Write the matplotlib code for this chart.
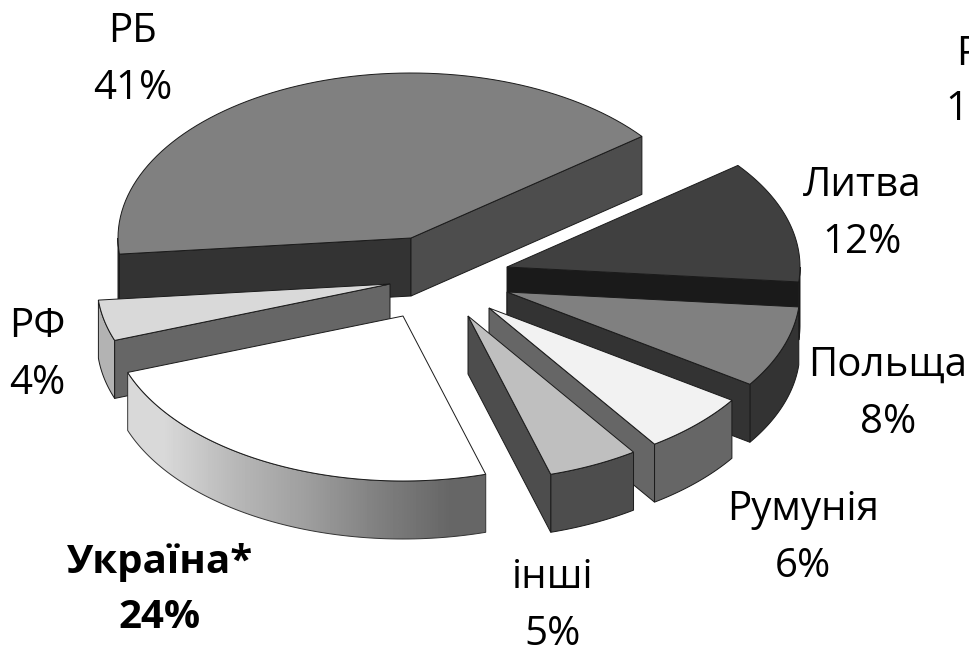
#exploded 3D pie, drawn by hand on an axes in pixel units
import numpy as np
import matplotlib
matplotlib.use("Agg")
import matplotlib.pyplot as plt
from matplotlib.patches import Polygon

#1. Data (clockwise from the Литва slice)
names = ["Литва", "Польща", "Румунія", "інші", "Україна*", "РФ", "РБ"]
values = [12, 8, 6, 5, 24, 4, 41]

#2. Look of each slice
top_colors = ["#404040", "#808080", "#f2f2f2", "#bfbfbf", "#ffffff", "#d9d9d9", "#808080"]
#wall at the slice's first edge, wall at its last edge, outer rim (None = hidden)
first_wall = [None, None, None, None, None, "#666666", "#333333"]
last_wall = ["#1a1a1a", "#333333", "#666666", "#4d4d4d", None, None, "#4d4d4d"]
rim_colors = ["#111111", "#333333", "#666666", "#4d4d4d", None, "#b3b3b3", "#333333"]
apex_x = [507, 507, 489, 468, 403, 390, 411]
apex_y = [267, 292, 308, 316, 316, 284, 238]
draw_order = [0, 1, 2, 3, 6, 5, 4]

gradient_grays = [0.85, 0.72, 0.62, 0.5, 0.4]

RX = 293
RY = 165
DEPTH = 58
START_ANGLE = 38.0
EDGE = "#1a1a1a"
LW = 0.7

plt.rcParams["font.family"] = ["Open Sans", "DejaVu Sans"]

fig = plt.figure(figsize=(9.69, 6.49), dpi=100)
ax = fig.add_axes([0, 0, 1, 1])
ax.set_xlim(0, 969)
ax.set_ylim(649, 0)
ax.axis("off")

#3. Slices
edges = START_ANGLE - np.cumsum([0] + values) * 3.6


def arc(i, a0, a1):
    t = np.radians(np.linspace(a0, a1, 80))
    return np.column_stack([apex_x[i] + RX * np.cos(t), apex_y[i] - RY * np.sin(t)])


def extrude(pts):
    #closed wall: the line on top and the same line DEPTH lower
    low = pts[::-1] + [0, DEPTH]
    return np.vstack([pts, low])


for i in draw_order:
    a0, a1 = edges[i], edges[i + 1]
    apex = np.array([[apex_x[i], apex_y[i]]], dtype=float)
    rim = arc(i, a0, a1)
    z = 3 if i == 4 else 1

    #only the part of the rim facing the viewer
    lo = max(a1, -180)
    hi = min(a0, 0)
    if hi > lo:
        front = extrude(arc(i, hi, lo))
        if rim_colors[i]:
            ax.add_patch(Polygon(front, fc=rim_colors[i], ec=EDGE, lw=LW))
        else:
            #Україна has a shaded rim
            patch = Polygon(front, fc="none", ec="#333333", lw=LW, zorder=2)
            ax.add_patch(patch)
            im = ax.imshow([gradient_grays], cmap="gray", vmin=0, vmax=1, aspect="auto",
                           interpolation="bilinear",
                           extent=[front[:, 0].min(), front[:, 0].max(), front[:, 1].max(), front[:, 1].min()],
                           zorder=1.5)
            im.set_clip_path(patch)

    if first_wall[i]:
        ax.add_patch(Polygon(extrude(np.vstack([apex, rim[:1]])), fc=first_wall[i], ec=EDGE, lw=LW))
    if last_wall[i]:
        ax.add_patch(Polygon(extrude(np.vstack([apex, rim[-1:]])), fc=last_wall[i], ec=EDGE, lw=LW))

    ax.add_patch(Polygon(np.vstack([apex, rim]), fc=top_colors[i], ec=EDGE, lw=LW, zorder=z))

ax.set_xlim(0, 969)
ax.set_ylim(649, 0)

#4. Labels
label_x = [862, 888, 803, 553, 160, 37, 133]
label_y = [214, 394, 538, 606, 590, 355, 60]
FONT = 29
for i, name in enumerate(names):
    weight = "bold" if name == "Україна*" else "normal"
    ax.text(label_x[i], label_y[i], f"{name}\n{values[i]}%", ha="center", va="center",
            fontsize=FONT, fontweight=weight, linespacing=1.55, color="black", zorder=5)

#the label cut off by the right edge of the picture
ax.text(956, 65, "Р", ha="left", va="baseline", fontsize=FONT, zorder=5)
ax.text(945, 120, "1", ha="left", va="baseline", fontsize=FONT, zorder=5)

fig.savefig("out.png", dpi=100)
